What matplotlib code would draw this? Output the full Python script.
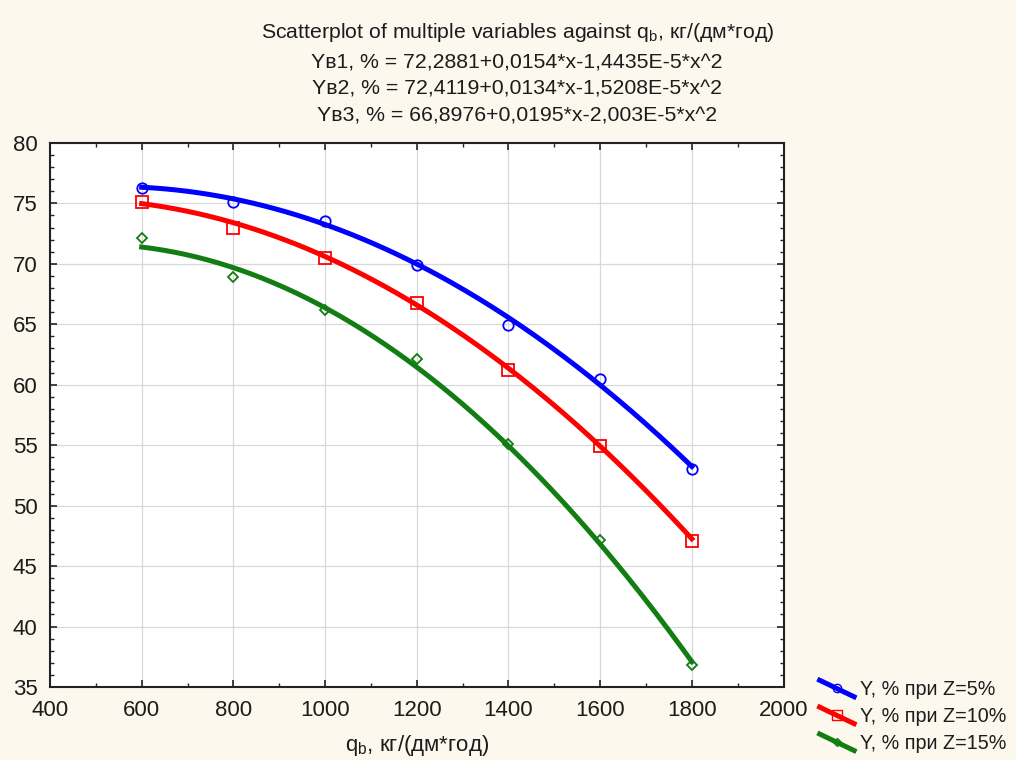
import numpy as np
import matplotlib
matplotlib.use("Agg")
import matplotlib.pyplot as plt
from matplotlib.lines import Line2D
from matplotlib.legend_handler import HandlerBase
from matplotlib.ticker import MultipleLocator

plt.rcParams['font.family'] = ['Liberation Sans', 'DejaVu Sans']
plt.rcParams['mathtext.fontset'] = 'custom'
plt.rcParams['mathtext.rm'] = 'Liberation Sans'
plt.rcParams['mathtext.it'] = 'Liberation Sans'

# данные
q = [600, 800, 1000, 1200, 1400, 1600, 1800]
y_z5 = [76.3, 75.1, 73.5, 69.9, 64.9, 60.5, 53.0]
y_z10 = [75.1, 73.0, 70.5, 66.8, 61.2, 54.9, 47.1]
y_z15 = [72.1, 68.9, 66.2, 62.1, 55.1, 47.2, 36.8]

# коэффициенты аппроксимации (c2, c1, c0) из заголовка
coef_z5 = [-1.4435e-5, 0.0154, 72.2881]
coef_z10 = [-1.5208e-5, 0.0134, 72.4119]
coef_z15 = [-2.003e-5, 0.0195, 66.8976]

labels = ['Y, % при Z=5%', 'Y, % при Z=10%', 'Y, % при Z=15%']
title_lines = [
    'Scatterplot of multiple variables against q$_{\\mathrm{b}}$, кг/(дм*год)',
    'Yв1, % = 72,2881+0,0154*x-1,4435E-5*x^2',
    'Yв2, % = 72,4119+0,0134*x-1,5208E-5*x^2',
    'Yв3, % = 66,8976+0,0195*x-2,003E-5*x^2',
]

bg = '#fcf8ee'
txt = '#1c1c1c'
fig = plt.figure(figsize=(10.16, 7.6), dpi=100, facecolor=bg)
ax = fig.add_axes([0.0492, 0.096, 0.722, 0.716])
ax.set_facecolor('white')

series = [
    (y_z5, coef_z5, '#0000ff', 'o', 7.5),
    (y_z10, coef_z10, '#ff0000', 's', 8.5),
    (y_z15, coef_z15, '#127d12', 'D', 5.5),
]

xs = np.linspace(min(q), max(q), 200)
handles = []
for (yv, cf, col, mk, ms), lab in zip(series, labels):
    ax.plot(xs, np.polyval(cf, xs), color=col, lw=3.6, zorder=3)
    ax.plot(q, yv, ls='none', marker=mk, ms=ms, mfc='none', mec=col, mew=1.3, zorder=4)
    handles.append(Line2D([], [], color=col, lw=3.6, marker=mk, ms=ms * 0.8,
                          mfc='none', mec=col, label=lab))

ax.set_xlim(400, 2000)
ax.set_ylim(35, 80)
ax.xaxis.set_major_locator(MultipleLocator(200))
ax.xaxis.set_minor_locator(MultipleLocator(100))
ax.yaxis.set_major_locator(MultipleLocator(5))
ax.yaxis.set_minor_locator(MultipleLocator(1))
ax.tick_params(which='both', direction='in', top=True, right=True, color='#222222')
ax.tick_params(which='major', length=5, width=1.2, labelsize=16, pad=9, labelcolor=txt)
ax.tick_params(which='minor', length=3, width=1)
ax.grid(True, which='major', color='#d8d8d8', lw=0.9)
for s in ax.spines.values():
    s.set_linewidth(1.5)
    s.set_color('#222222')

ax.set_xlabel('q$_{\\mathrm{b}}$, кг/(дм*год)', fontsize=16, labelpad=9, color=txt)

ys = [0.957, 0.917, 0.883, 0.848]
for t, yy in zip(title_lines, ys):
    fig.text(0.509, yy, t, ha='center', va='center', fontsize=15.3, color=txt)


class DiagHandler(HandlerBase):
    def create_artists(self, legend, orig, xd, yd, w, h, fs, trans):
        x0, y0 = -xd, -yd
        line = Line2D([x0, x0 + w], [y0 + h * 1.1, y0 - h * 0.1],
                      color=orig.get_color(), lw=orig.get_linewidth(), transform=trans)
        mark = Line2D([x0 + w / 2], [y0 + h / 2], ls='none', marker=orig.get_marker(),
                      ms=orig.get_markersize(), mfc='none', mec=orig.get_color(),
                      transform=trans)
        return [line, mark]


leg = fig.legend(handles=handles, loc='lower left', bbox_to_anchor=(0.797, -0.004),
                 frameon=False, fontsize=14.2, handlelength=1.75, handletextpad=0.3,
                 labelspacing=0.4, borderpad=0.3, borderaxespad=0.2,
                 handler_map={Line2D: DiagHandler()}, labelcolor=txt)

fig.savefig('out.png', dpi=100, facecolor=bg)
